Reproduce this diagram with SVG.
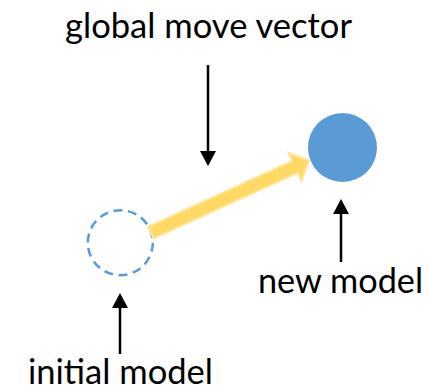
<svg xmlns="http://www.w3.org/2000/svg" width="429" height="391" viewBox="0 0 429 391">
  <style>
    .label { font-family: Lato, "Open Sans", "Liberation Sans", sans-serif; font-size: 35px; fill: #000; }
    .pointer { stroke: #000; stroke-width: 2.5; fill: none; marker-end: url(#head); }
    .model-old { fill: none; stroke: #5B9BD5; stroke-width: 2.5; stroke-dasharray: 9 5.6; }
    .model-new { fill: #5B9BD5; }
    .move { fill: #FFD966; stroke: #FFE699; stroke-width: 2; stroke-linejoin: miter; }
  </style>
  <defs>
    <marker id="head" markerUnits="userSpaceOnUse" markerWidth="15" markerHeight="16" viewBox="0 0 15 16" refX="5" refY="8" orient="auto">
      <path d="M0,0 L15,8 L0,16 Z" fill="#000"/>
    </marker>
  </defs>
  <rect width="429" height="391" fill="#fff"/>

  <!-- starting position of the model -->
  <g id="initial-model">
    <circle class="model-old" cx="120.3" cy="242.7" r="32.5"/>
  </g>

  <!-- moved model -->
  <g id="new-model">
    <circle class="model-new" cx="342.5" cy="147.5" r="34.5"/>
  </g>

  <g id="connectors">
    <!-- global move vector -->
    <polygon class="move" points="148.3,226.6 292.2,161.0 288.5,152.8 309,160.5 301.3,181.0 297.6,172.8 153.7,238.4"/>
    <!-- label pointers -->
    <line class="pointer" x1="208" y1="65" x2="208" y2="156"/>
    <line class="pointer" x1="341" y1="262" x2="341" y2="209"/>
    <line class="pointer" x1="120" y1="354" x2="120" y2="303"/>
  </g>

  <g id="labels">
    <text class="label" x="65" y="38" textLength="287" lengthAdjust="spacingAndGlyphs">global move vector</text>
    <text class="label" x="258" y="293" textLength="165" lengthAdjust="spacingAndGlyphs">new model</text>
    <text class="label" x="28" y="384" textLength="185" lengthAdjust="spacingAndGlyphs">initial model</text>
  </g>
</svg>
